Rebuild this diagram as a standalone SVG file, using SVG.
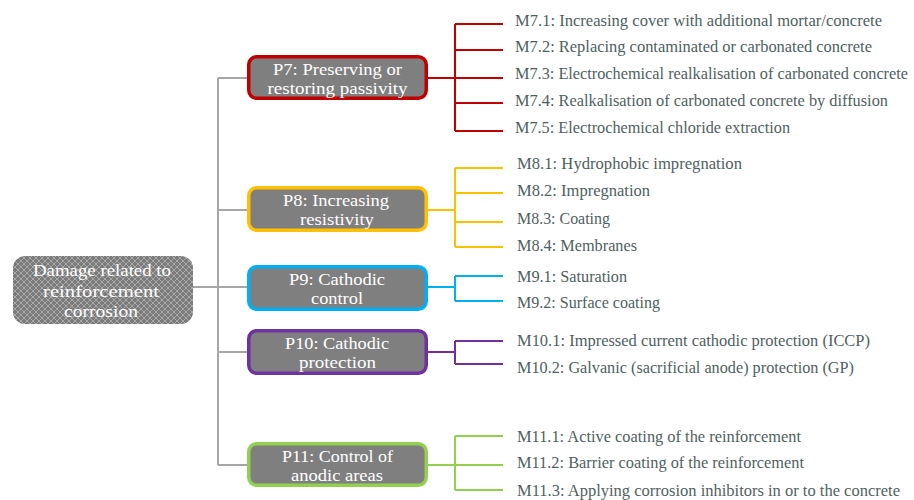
<svg xmlns="http://www.w3.org/2000/svg" width="914" height="500" viewBox="0 0 914 500">
<defs>
<pattern id="hatch" width="6" height="6" patternUnits="userSpaceOnUse">
<rect width="6" height="6" fill="#7b7b7b"/>
<path d="M0,0 L6,6 M6,0 L0,6" stroke="#a9a9a9" stroke-width="1"/>
</pattern>
<style>
.box{fill:#7f7f7f;stroke-width:3.5}
.bt{font-family:"Liberation Serif","DejaVu Serif",serif;font-size:16.5px;fill:#ffffff;text-anchor:middle}
.rt{font-family:"Liberation Serif","DejaVu Serif",serif;font-size:17.5px;fill:#ffffff;text-anchor:middle}
.lt{font-family:"Liberation Serif","DejaVu Serif",serif;font-size:16.5px;fill:#4f5f5f}
.c{fill:none;stroke-width:2}
.gray{stroke:#a6a6a6}
.red{stroke:#c00000}
.yel{stroke:#ffc000}
.blu{stroke:#00b0f0}
.pur{stroke:#7030a0}
.grn{stroke:#92d050}
</style>
</defs>
<rect width="914" height="500" fill="#ffffff"/>
<g id="connectors">
<path class="c gray" d="M193,287 H218 M218,78 V465 M218,78 H247 M218,210 H247 M218,287 H247 M218,352 H247 M218,465 H247"/>
<path class="c red" d="M428,78 H455 M455,24 V131 M455,24 H503 M455,50 H503 M455,78 H503 M455,103 H503 M455,131 H503"/>
<path class="c yel" d="M428,210 H455 M455,168 V247 M455,168 H503 M455,193 H503 M455,222 H503 M455,247 H503"/>
<path class="c blu" d="M428,287 H455 M455,276 V301 M455,276 H503 M455,301 H503"/>
<path class="c pur" d="M428,352 H455 M455,341 V364 M455,341 H503 M455,364 H503"/>
<path class="c grn" d="M428,465 H455 M455,436 V490 M455,436 H503 M455,465 H503 M455,490 H503"/>
</g>
<g id="root">
<rect x="13" y="256" width="180" height="68" rx="12" fill="url(#hatch)"/>
<text class="rt" x="102" y="276" textLength="138" lengthAdjust="spacingAndGlyphs">Damage related to</text>
<text class="rt" x="101" y="296.5" textLength="116" lengthAdjust="spacingAndGlyphs">reinforcement</text>
<text class="rt" x="101" y="316.5" textLength="74" lengthAdjust="spacingAndGlyphs">corrosion</text>
</g>
<g id="P7">
<rect class="box" x="248.75" y="56.75" width="177.5" height="41.5" rx="8" stroke="#c00000"/>
<text class="bt" x="337.5" y="74.5" textLength="129" lengthAdjust="spacingAndGlyphs">P7: Preserving or</text>
<text class="bt" x="337.5" y="93.5" textLength="140" lengthAdjust="spacingAndGlyphs">restoring passivity</text>
</g>
<g id="P8">
<rect class="box" x="248.75" y="187.75" width="177.5" height="42.5" rx="8" stroke="#ffc000"/>
<text class="bt" x="336" y="205.5" textLength="106" lengthAdjust="spacingAndGlyphs">P8: Increasing</text>
<text class="bt" x="337" y="224.5" textLength="74" lengthAdjust="spacingAndGlyphs">resistivity</text>
</g>
<g id="P9">
<rect class="box" x="248.75" y="266.75" width="177.5" height="42.5" rx="8" stroke="#00b0f0"/>
<text class="bt" x="337" y="284.5" textLength="96" lengthAdjust="spacingAndGlyphs">P9: Cathodic</text>
<text class="bt" x="337" y="303.5" textLength="52" lengthAdjust="spacingAndGlyphs">control</text>
</g>
<g id="P10">
<rect class="box" x="248.75" y="330.75" width="177.5" height="42.5" rx="8" stroke="#7030a0"/>
<text class="bt" x="337" y="348.5" textLength="104" lengthAdjust="spacingAndGlyphs">P10: Cathodic</text>
<text class="bt" x="337.5" y="367.5" textLength="77" lengthAdjust="spacingAndGlyphs">protection</text>
</g>
<g id="P11">
<rect class="box" x="248.75" y="443.75" width="177.5" height="41.5" rx="8" stroke="#92d050"/>
<text class="bt" x="337.5" y="461.5" textLength="111" lengthAdjust="spacingAndGlyphs">P11: Control of</text>
<text class="bt" x="337" y="480.5" textLength="92" lengthAdjust="spacingAndGlyphs">anodic areas</text>
</g>
<g id="M7">
<text class="lt" x="515" y="25.5" textLength="367" lengthAdjust="spacingAndGlyphs">M7.1: Increasing cover with additional mortar/concrete</text>
<text class="lt" x="515" y="51.5" textLength="357" lengthAdjust="spacingAndGlyphs">M7.2: Replacing contaminated or carbonated concrete</text>
<text class="lt" x="515" y="79" textLength="393" lengthAdjust="spacingAndGlyphs">M7.3: Electrochemical realkalisation of carbonated concrete</text>
<text class="lt" x="515" y="105.5" textLength="373" lengthAdjust="spacingAndGlyphs">M7.4: Realkalisation of carbonated concrete by diffusion</text>
<text class="lt" x="515" y="133" textLength="275" lengthAdjust="spacingAndGlyphs">M7.5: Electrochemical chloride extraction</text>
</g>
<g id="M8">
<text class="lt" x="517" y="169" textLength="225" lengthAdjust="spacingAndGlyphs">M8.1: Hydrophobic impregnation</text>
<text class="lt" x="517" y="196" textLength="133" lengthAdjust="spacingAndGlyphs">M8.2: Impregnation</text>
<text class="lt" x="517" y="224" textLength="93" lengthAdjust="spacingAndGlyphs">M8.3: Coating</text>
<text class="lt" x="517" y="251" textLength="120" lengthAdjust="spacingAndGlyphs">M8.4: Membranes</text>
</g>
<g id="M9">
<text class="lt" x="517" y="282" textLength="110" lengthAdjust="spacingAndGlyphs">M9.1: Saturation</text>
<text class="lt" x="517" y="308" textLength="143" lengthAdjust="spacingAndGlyphs">M9.2: Surface coating</text>
</g>
<g id="M10">
<text class="lt" x="517" y="346" textLength="353" lengthAdjust="spacingAndGlyphs">M10.1: Impressed current cathodic protection (ICCP)</text>
<text class="lt" x="517" y="373" textLength="337" lengthAdjust="spacingAndGlyphs">M10.2: Galvanic (sacrificial anode) protection (GP)</text>
</g>
<g id="M11">
<text class="lt" x="517" y="442" textLength="284" lengthAdjust="spacingAndGlyphs">M11.1: Active coating of the reinforcement</text>
<text class="lt" x="517" y="468" textLength="287" lengthAdjust="spacingAndGlyphs">M11.2: Barrier coating of the reinforcement</text>
<text class="lt" x="517" y="496" textLength="383" lengthAdjust="spacingAndGlyphs">M11.3: Applying corrosion inhibitors in or to the concrete</text>
</g>
</svg>
